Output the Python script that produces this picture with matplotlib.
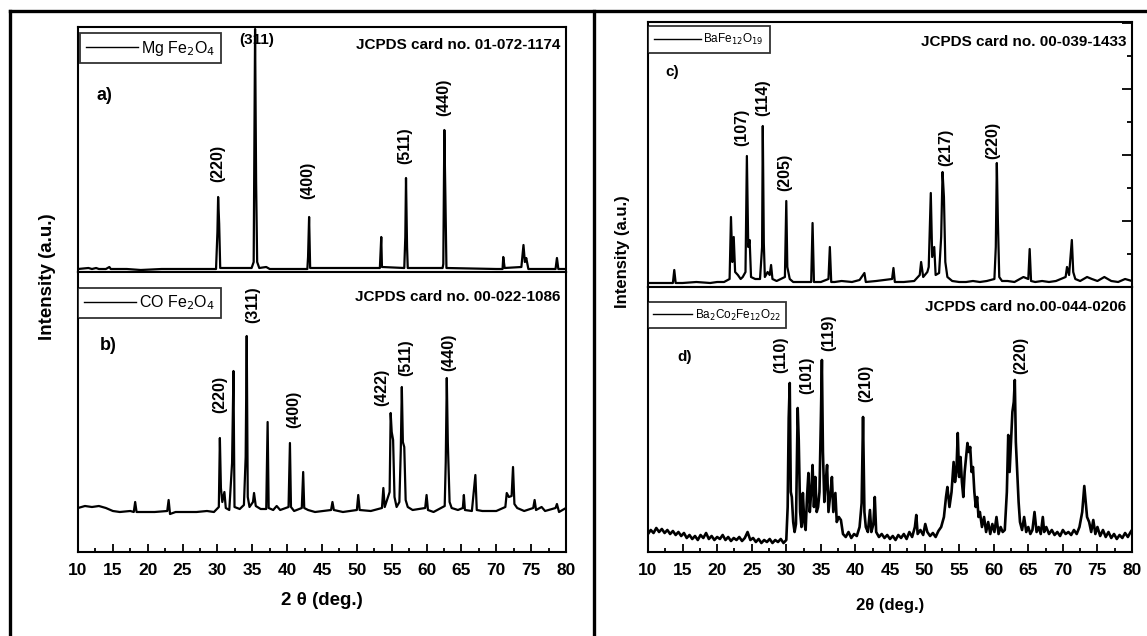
import numpy as np
import matplotlib
matplotlib.use("Agg")
import matplotlib.pyplot as plt
from matplotlib.lines import Line2D
from matplotlib.ticker import MultipleLocator, NullFormatter

plt.rcParams['font.family'] = ['Liberation Sans', 'DejaVu Sans']

# a) MgFe2O4 - (2theta, intensity a.u.)
a_x = [10.0, 11.5, 12.0, 12.6, 13.0, 14.0, 14.5, 14.7, 17.0, 19.0, 22.0, 25.0, 28.0, 29.8, 30.0, 30.1, 30.25, 30.4,
       34.9, 35.2, 35.4, 35.55, 35.7, 36.0, 37.0, 37.5, 42.9, 43.0, 43.15, 43.3, 53.3, 53.5, 53.6, 56.8, 56.95,
       57.05, 57.2, 57.3, 62.3, 62.4, 62.55, 62.7, 62.85, 70.0, 70.9, 71.0, 71.2, 73.6, 73.9, 74.1, 74.3, 74.6,
       78.5, 78.7, 78.9, 80.0]
a_y = [3, 4, 3, 4, 3, 3, 5, 3, 3, 2, 3, 3, 3, 3, 40, 75, 48, 4,
       4, 10, 243, 89, 10, 4, 5, 3, 3, 15, 55, 4, 4, 35, 5, 4, 35,
       94, 25, 4, 4, 8, 142, 75, 4, 3, 3, 15, 4, 5, 27, 10, 14, 3,
       3, 14, 3, 3]

# b) CoFe2O4
b_x = [10, 11, 12, 13, 14, 15, 16, 17.5, 18.0, 18.2, 18.4, 19, 21, 22.8, 23.0, 23.2, 24, 27, 28.5, 29.5,
       30.2, 30.35, 30.5, 30.7, 31.0, 31.2, 31.7, 32.1, 32.3, 32.45, 33.2, 33.8, 34.05, 34.2, 34.35, 34.6,
       35.1, 35.25, 35.5, 36.2, 37.0, 37.2, 37.35, 38.0, 38.5, 39, 40.2, 40.4, 40.55, 41, 42.1, 42.3, 42.45,
       43, 44, 46.3, 46.5, 46.7, 48, 50.0, 50.2, 50.4, 52, 53.6, 53.8, 54.0, 54.7, 54.85, 55.0, 55.2, 55.4,
       55.7, 56.1, 56.3, 56.45, 56.6, 56.8, 57.0, 57.3, 58, 59.8, 60.0, 60.2, 61, 62.6, 62.75, 62.9, 63.05,
       63.3, 63.6, 64.5, 65.2, 65.35, 65.5, 66.5, 67.0, 67.2, 68, 70, 71.3, 71.5, 71.8, 72.2, 72.4, 72.6,
       73, 74, 75.3, 75.5, 75.7, 76.5, 77, 78.5, 78.7, 79, 80]
b_y = [44, 46, 45, 46, 44, 41, 40, 41, 40, 50, 40, 40, 40, 41, 52, 38, 40, 40, 41, 40,
       45, 114, 64, 50, 60, 44, 42, 89, 181, 45, 43, 47, 95, 216, 55, 45,
       50, 59, 46, 43, 43, 130, 44, 42, 46, 42, 45, 109, 45, 41, 44, 80, 44,
       42, 40, 42, 50, 42, 40, 42, 57, 42, 41, 44, 64, 45, 60, 139, 120, 112, 55,
       45, 50, 102, 165, 110, 105, 52, 45, 42, 44, 57, 42, 40, 46, 90, 174, 109,
       50, 44, 42, 44, 57, 42, 41, 77, 42, 41, 41, 45, 59, 55, 56, 85, 48,
       44, 41, 44, 52, 42, 45, 41, 44, 48, 40, 44]

# c) BaFe12O19
c_x = [10, 12, 13.6, 13.8, 14.0, 15, 17, 19, 20, 21, 21.8, 22.0, 22.2, 22.4, 22.6, 23, 23.4, 23.7, 24.1, 24.3,
       24.5, 24.7, 24.9, 25.5, 26.2, 26.5, 26.6, 26.75, 26.9, 27.3, 27.6, 27.8, 28.0, 28.6, 29.8, 30.0, 30.15,
       30.5, 31, 33.6, 33.8, 34.0, 35, 36.1, 36.3, 36.5, 37, 38, 39.5, 40.6, 41.3, 41.5, 43, 45.3, 45.5, 45.7,
       47, 48.5, 49.3, 49.5, 49.8, 50.4, 50.6, 50.9, 51.1, 51.4, 51.6, 52.1, 52.4, 52.6, 52.8, 53.0, 53.3, 54,
       55, 56, 57, 58, 59, 60.1, 60.3, 60.45, 60.6, 60.8, 61.2, 62, 63, 64.3, 65.0, 65.2, 65.4, 66, 67, 68, 69,
       70.4, 70.6, 70.9, 71.3, 71.5, 71.8, 72.5, 73.5, 74.2, 75, 76, 77, 78, 79, 80]
c_y = [4, 4, 4, 17, 4, 4, 5, 4, 5, 5, 8, 70, 25, 50, 15, 12, 8, 10, 15, 131,
       40, 47, 10, 8, 8, 40, 161, 44, 10, 15, 12, 22, 8, 6, 10, 86, 20,
       8, 5, 5, 64, 5, 5, 8, 40, 5, 5, 6, 5, 7, 14, 5, 6, 8, 19, 5,
       5, 6, 12, 25, 10, 15, 20, 94, 30, 40, 12, 14, 50, 115, 90, 25, 10, 6,
       5, 5, 6, 5, 6, 8, 40, 124, 67, 10, 6, 6, 5, 10, 8, 38, 6, 5, 6, 5, 6,
       10, 20, 12, 47, 15, 8, 6, 10, 8, 6, 10, 6, 5, 8, 6]

# d) Ba2Co2Fe12O22
d_x = [10.0, 10.4, 10.8, 11.2, 11.6, 12.0, 12.4, 12.8, 13.2, 13.6, 14.0, 14.4, 14.8, 15.2, 15.6, 16.0, 16.4,
       16.8, 17.2, 17.6, 18.0, 18.4, 18.8, 19.2, 19.6, 20.0, 20.4, 20.8, 21.2, 21.6, 22.0, 22.4, 22.8, 23.2,
       23.6, 24.0, 24.4, 24.8, 25.2, 25.6, 26.0, 26.4, 26.8, 27.2, 27.6, 28.0, 28.4, 28.8, 29.2, 29.6, 30.0,
       30.2, 30.35, 30.5, 30.65, 30.8, 31.0, 31.2, 31.4, 31.65, 31.8, 32.0, 32.2, 32.4, 32.6, 32.8, 33.0, 33.2,
       33.4, 33.6, 33.8, 34.0, 34.2, 34.4, 34.6, 34.8, 35.0, 35.15, 35.3, 35.5, 35.7, 35.9, 36.1, 36.4, 36.6,
       36.8, 37.1, 37.3, 37.6, 37.9, 38.2, 38.6, 39.0, 39.4, 39.8, 40.2, 40.6, 40.9, 41.1, 41.3, 41.5, 41.8,
       42.1, 42.3, 42.6, 42.8, 43.0, 43.4, 43.8, 44.2, 44.6, 45.0, 45.4, 45.8, 46.2, 46.6, 47.0, 47.4, 47.8,
       48.2, 48.6, 48.8, 49.0, 49.4, 49.8, 50.1, 50.4, 50.8, 51.2, 51.6, 52.0, 52.4, 52.8, 53.1, 53.3, 53.6,
       53.9, 54.2, 54.4, 54.6, 54.8, 55.0, 55.2, 55.4, 55.6, 55.8, 56.0, 56.2, 56.4, 56.6, 56.8, 57.0, 57.2,
       57.4, 57.6, 57.8, 58.0, 58.3, 58.6, 58.9, 59.2, 59.5, 59.8, 60.1, 60.4, 60.7, 61.0, 61.3, 61.6, 61.9,
       62.1, 62.3, 62.5, 62.7, 62.9, 63.05, 63.2, 63.4, 63.6, 63.8, 64.1, 64.4, 64.7, 65.0, 65.3, 65.6, 65.9,
       66.2, 66.5, 66.8, 67.1, 67.3, 67.6, 68.0, 68.4, 68.8, 69.2, 69.6, 70.0, 70.4, 70.8, 71.2, 71.6, 72.0,
       72.4, 72.8, 73.1, 73.3, 73.5, 73.8, 74.1, 74.4, 74.7, 75.0, 75.4, 75.8, 76.2, 76.6, 77.0, 77.4, 77.8,
       78.2, 78.6, 79.0, 79.4, 79.8, 80.0]
d_y = [18, 22, 19, 24, 20, 23, 19, 22, 18, 21, 17, 20, 16, 19, 14, 17, 13,
       16, 12, 17, 14, 19, 13, 16, 12, 15, 13, 17, 12, 15, 11, 14, 12, 15,
       11, 14, 20, 12, 14, 10, 13, 9, 12, 10, 13, 9, 12, 10, 13, 9, 12,
       45, 134, 169, 60, 55, 30, 20, 28, 144, 112, 40, 25, 59, 30, 22, 55, 79,
       40, 60, 87, 45, 75, 40, 45, 60, 132, 192, 100, 50, 70, 87, 40, 60, 75,
       40, 59, 30, 35, 32, 18, 15, 20, 14, 18, 16, 25, 49, 135, 40, 25, 20,
       42, 20, 28, 55, 20, 15, 18, 14, 17, 13, 16, 12, 17, 14, 18, 13, 20,
       15, 25, 37, 18, 22, 17, 28, 20, 16, 19, 15, 21, 25, 35, 55, 65, 45,
       60, 90, 70, 80, 119, 75, 95, 70, 55, 80, 95, 109, 100, 105, 80, 85, 60,
       45, 55, 35, 40, 25, 35, 20, 30, 18, 28, 20, 35, 18, 25, 20, 22, 60,
       117, 80, 110, 140, 150, 172, 110, 80, 50, 30, 22, 35, 20, 25, 18, 22, 40,
       20, 25, 18, 35, 20, 25, 18, 22, 17, 20, 16, 22, 18, 20, 17, 22, 18,
       25, 40, 66, 50, 35, 30, 20, 32, 18, 25, 16, 22, 15, 20, 14, 18, 13,
       17, 14, 19, 15, 20, 22]

# peak labels: (hkl, 2theta, height of label centre)
a_lab = [("(220)", 30.0, 109), ("(400)", 42.9, 92), ("(511)", 56.8, 126), ("(440)", 62.4, 175)]
b_lab = [("(220)", 30.3, 158), ("(311)", 35.1, 247), ("(400)", 41.0, 143), ("(422)", 53.6, 165),
         ("(511)", 57.0, 194), ("(440)", 63.2, 200)]
c_lab = [("(107)", 23.6, 160), ("(114)", 26.6, 189), ("(205)", 29.8, 115), ("(217)", 53.0, 140),
         ("(220)", 59.9, 147)]
d_lab = [("(110)", 29.2, 197), ("(101)", 33.0, 177), ("(119)", 36.2, 219), ("(210)", 41.5, 169),
         ("(220)", 63.9, 197)]

W, H = 1147, 636
fig = plt.figure(figsize=(W / 100, H / 100), dpi=100)


def box(x0, x1, y0, y1):
    return [x0 / W, 1 - y1 / H, (x1 - x0) / W, (y1 - y0) / H]


axA = fig.add_axes(box(78, 566, 27, 272))
axB = fig.add_axes(box(78, 566, 272, 552))
axC = fig.add_axes(box(648, 1132, 22, 287))
axD = fig.add_axes(box(648, 1132, 287, 552))

panels = [(axA, a_x, a_y, 245, 1.6), (axB, b_x, b_y, 280, 1.6), (axC, c_x, c_y, 265, 1.6),
          (axD, d_x, d_y, 265, 1.9)]
for ax, x, y, top, lw_ in panels:
    ax.plot(x, y, color="black", lw=lw_)
    ax.set_xlim(10, 80)
    ax.set_ylim(0, top)
    ax.set_yticks([])
    for s in ax.spines.values():
        s.set_linewidth(1.5)
    ax.xaxis.set_major_locator(MultipleLocator(5))
    ax.xaxis.set_minor_locator(MultipleLocator(2.5))
    ax.tick_params(axis="x", which="major", direction="in", length=6, width=1.3)
    ax.tick_params(axis="x", which="minor", direction="in", length=3, width=1.3)

for ax in (axA, axC):
    ax.tick_params(axis="x", which="both", bottom=False, labelbottom=False)

for ax in (axB, axD):
    for t in ax.get_xticklabels():
        t.set_fontweight("bold")
        t.set_fontsize(12.5)
    ax.tick_params(axis="x", pad=8)

# right ticks of c
axC.yaxis.tick_right()
axC.yaxis.set_major_locator(MultipleLocator(66))
axC.yaxis.set_minor_locator(MultipleLocator(33))
axC.yaxis.set_major_formatter(NullFormatter())
axC.tick_params(axis="y", which="major", direction="in", length=7, width=1.3)
axC.tick_params(axis="y", which="minor", direction="in", length=3.5, width=1.3)

axB.set_xlabel("2 θ (deg.)", fontsize=13.5, fontweight="bold", labelpad=10)
axD.set_xlabel("2θ (deg.)", fontsize=12, fontweight="bold", labelpad=14)
fig.text(47 / W, 1 - 277 / H, "Intensity (a.u.)", rotation=90, ha="center", va="center",
         fontsize=13.5, fontweight="bold")
fig.text(623 / W, 1 - 252 / H, "Intensity (a.u.)", rotation=90, ha="center", va="center",
         fontsize=12, fontweight="bold")

for ax, labs in [(axA, a_lab), (axB, b_lab), (axC, c_lab), (axD, d_lab)]:
    for t, x, y in labs:
        ax.text(x, y, t, rotation=90, ha="center", va="center", fontsize=11.5, fontweight="bold")
axA.text(35.6, 232, "(311)", ha="center", va="center", fontsize=11, fontweight="bold")

axA.text(12.7, 177, "a)", fontsize=13, fontweight="bold", va="center")
axB.text(13.2, 207, "b)", fontsize=13, fontweight="bold", va="center")
axC.text(12.5, 215, "c)", fontsize=11, fontweight="bold", va="center")
axD.text(14.2, 195, "d)", fontsize=11, fontweight="bold", va="center")

cards = [(axA, "JCPDS card no. 01-072-1174", 227), (axB, "JCPDS card no. 00-022-1086", 255),
         (axC, "JCPDS card no. 00-039-1433", 245), (axD, "JCPDS card no.00-044-0206", 245)]
for ax, t, y in cards:
    ax.text(79.2, y, t, ha="right", va="center", fontsize=11, fontweight="bold")

names = [(axA, "Mg Fe$_2$O$_4$", 11.5, (0.004, 0.975), 3.3, 0.35),
         (axB, "CO Fe$_2$O$_4$", 11.5, (0.0, 0.943), 3.3, 0.35),
         (axC, "BaFe$_{12}$O$_{19}$", 8.5, (0.0, 0.985), 4.0, 0.5),
         (axD, "Ba$_2$Co$_2$Fe$_{12}$O$_{22}$", 8.5, (0.0, 0.943), 3.3, 0.45)]
for ax, t, fs, anchor, hl, bp in names:
    h, = ax.plot([], [], color="black", lw=1)
    leg = ax.legend([h], [t], loc="upper left", bbox_to_anchor=anchor, borderaxespad=0,
                    fontsize=fs, fancybox=False, frameon=True, handlelength=hl,
                    handletextpad=0.2, borderpad=bp)
    leg.get_frame().set_edgecolor("black")
    leg.get_frame().set_linewidth(1.3)

# outer frame of the figure
lw = 2.4
fig.add_artist(Line2D([10 / W, 10 / W], [0, 1 - 11 / H], color="black", lw=lw))
fig.add_artist(Line2D([10 / W, 1], [1 - 11 / H, 1 - 11 / H], color="black", lw=lw))
fig.add_artist(Line2D([594 / W, 594 / W], [0, 1 - 11 / H], color="black", lw=lw))

fig.savefig("out.png", dpi=100)
